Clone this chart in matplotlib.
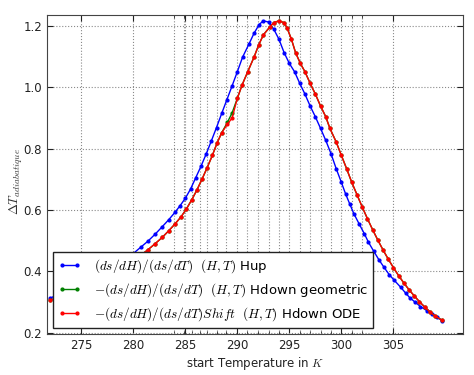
import matplotlib
matplotlib.use("Agg")
import matplotlib.pyplot as plt
from matplotlib.ticker import FixedLocator

plt.rcParams["mathtext.fontset"] = "cm"
plt.rcParams["font.family"] = "DejaVu Sans"

# Hup (blue)
t_up = [272.0, 273.0, 274.0, 275.0, 276.0, 277.0, 278.0, 279.0, 280.0, 280.7,
        281.4, 282.1, 282.8, 283.4, 284.0, 284.5, 285.0, 285.5, 286.0, 286.5,
        287.0, 287.5, 288.0, 288.5, 289.0, 289.5, 290.0, 290.5, 291.1, 291.6,
        292.1, 292.5, 293.0, 293.5, 294.0, 294.5, 295.0, 295.5, 296.0, 296.5,
        297.0, 297.5, 298.0, 298.5, 299.0, 299.5, 300.0, 300.4, 300.8, 301.2,
        301.7, 302.2, 302.6, 303.1, 303.6, 304.1, 304.6, 305.1, 305.7, 306.2,
        306.6, 307.1, 307.6, 308.2, 308.7, 309.2, 309.7]
dt_up = [0.312, 0.328, 0.345, 0.362, 0.380, 0.398, 0.417, 0.437, 0.458, 0.478,
         0.498, 0.521, 0.546, 0.568, 0.592, 0.614, 0.638, 0.668, 0.705, 0.742,
         0.782, 0.825, 0.869, 0.915, 0.960, 1.005, 1.051, 1.098, 1.140, 1.176,
         1.205, 1.217, 1.213, 1.190, 1.157, 1.113, 1.078, 1.051, 1.013, 0.978,
         0.939, 0.904, 0.866, 0.827, 0.784, 0.735, 0.690, 0.653, 0.620, 0.588,
         0.555, 0.523, 0.495, 0.466, 0.438, 0.413, 0.389, 0.370, 0.348, 0.328,
         0.313, 0.299, 0.285, 0.272, 0.261, 0.250, 0.239]

# Hdown geometric (green)
t_geo = [272.0, 273.0, 274.0, 275.0, 276.0, 277.0, 278.0, 279.0, 280.0, 280.7,
         281.4, 282.1, 282.8, 283.4, 284.0, 284.6, 285.1, 285.6, 286.1, 286.6,
         287.1, 287.6, 288.05, 288.5, 289.05, 289.5, 290.0, 290.45, 291.0, 291.6,
         292.05, 292.5, 293.1, 293.5, 294.0, 294.5, 294.8, 295.2, 295.6, 296.06,
         296.5, 297.0, 297.5, 298.0, 298.5, 298.9, 299.5, 300.0, 300.5, 301.0,
         301.5, 302.0, 302.5, 303.0, 303.5, 304.0, 304.5, 305.0, 305.5, 306.0,
         306.5, 307.0, 307.5, 308.0, 308.5, 309.0, 309.7]
dt_geo = [0.305, 0.318, 0.332, 0.347, 0.362, 0.378, 0.395, 0.413, 0.432, 0.452,
          0.470, 0.490, 0.511, 0.532, 0.554, 0.578, 0.603, 0.632, 0.664, 0.700,
          0.738, 0.778, 0.818, 0.852, 0.886, 0.917, 0.964, 1.007, 1.051, 1.098,
          1.138, 1.171, 1.196, 1.211, 1.217, 1.211, 1.192, 1.157, 1.113, 1.078,
          1.051, 1.013, 0.978, 0.939, 0.904, 0.866, 0.822, 0.778, 0.735, 0.690,
          0.650, 0.610, 0.572, 0.536, 0.502, 0.470, 0.440, 0.412, 0.386, 0.362,
          0.340, 0.320, 0.301, 0.284, 0.268, 0.254, 0.240]

# Hdown ODE (red)
t_ode = t_geo
dt_ode = [0.305, 0.318, 0.332, 0.347, 0.362, 0.378, 0.395, 0.413, 0.432, 0.452,
          0.470, 0.490, 0.511, 0.532, 0.554, 0.578, 0.603, 0.632, 0.664, 0.700,
          0.738, 0.778, 0.818, 0.852, 0.880, 0.900, 0.964, 1.007, 1.051, 1.098,
          1.138, 1.171, 1.196, 1.211, 1.217, 1.211, 1.192, 1.157, 1.113, 1.078,
          1.051, 1.013, 0.978, 0.939, 0.904, 0.866, 0.822, 0.778, 0.735, 0.690,
          0.650, 0.610, 0.572, 0.536, 0.502, 0.470, 0.440, 0.412, 0.386, 0.362,
          0.340, 0.320, 0.301, 0.284, 0.268, 0.254, 0.240]

minor_t = [283.9, 284.9, 285.6, 286.4, 287.1, 288.0, 288.9, 290.0, 290.9, 292.0,
           293.0, 294.0, 296.0, 297.0, 298.0, 299.0, 301.0, 302.0]

labels = [r"$(ds/dH)/(ds/dT)\ \ (H,T)$ Hup",
          r"$-(ds/dH)/(ds/dT)\ \ (H,T)$ Hdown geometric",
          r"$-(ds/dH)/(ds/dT)Shift\ \ (H,T)$ Hdown ODE"]

fig = plt.figure(figsize=(4.74, 3.75), dpi=100)
ax = fig.add_axes([0.099, 0.109, 0.878, 0.851])

ax.plot(t_up, dt_up, "b.-", lw=1, ms=4, label=labels[0])
ax.plot(t_geo, dt_geo, "g.-", lw=1, ms=4, label=labels[1])
ax.plot(t_ode, dt_ode, "r.-", lw=1, ms=4, label=labels[2])

ax.set_xlim(271.7, 311.7)
ax.set_ylim(0.195, 1.236)
ax.set_xticks([275, 280, 285, 290, 295, 300, 305])
ax.set_yticks([0.2, 0.4, 0.6, 0.8, 1.0, 1.2])
ax.xaxis.set_minor_locator(FixedLocator(minor_t))
ax.tick_params(which="both", direction="in", top=True, right=True,
               labelsize=8.5, colors="#222222")
ax.tick_params(which="major", length=4, pad=3.5)
ax.tick_params(which="minor", length=2)
ax.grid(True, which="both", color="#8a8a8a", linestyle=":", linewidth=0.8)
for s in ax.spines.values():
    s.set_color("#444444")

ax.set_xlabel("start Temperature in $K$", fontsize=8.5, color="#222222", labelpad=2)
ax.set_ylabel(r"$\Delta T_{adiabatique}$", fontsize=9.5, color="#333333")
ax.yaxis.set_label_coords(-0.053, 0.48)

leg = ax.legend(loc="lower left", numpoints=2, fontsize=9.5, fancybox=False,
                framealpha=1, edgecolor="#222222", borderaxespad=0.45,
                handlelength=1.7, handletextpad=1.0, labelspacing=0.45)
leg.get_frame().set_linewidth(1)

fig.savefig("out.png", dpi=100)
